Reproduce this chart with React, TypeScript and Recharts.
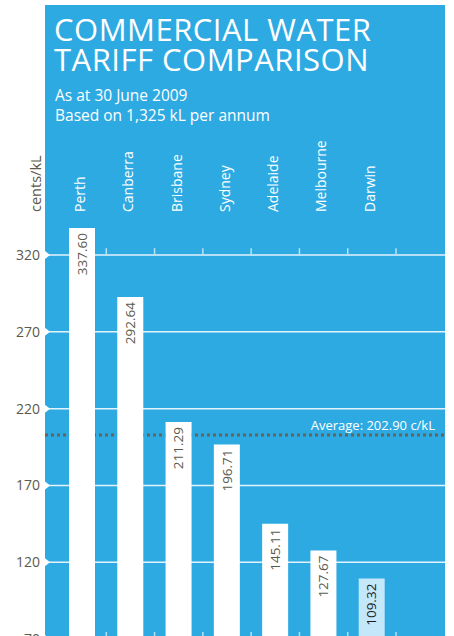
import React from "react";
import {
  BarChart,
  Bar,
  Cell,
  XAxis,
  YAxis,
  CartesianGrid,
  ReferenceLine,
  LabelList,
  Label,
} from "recharts";

const cities = ["Perth", "Canberra", "Brisbane", "Sydney", "Adelaide", "Melbourne", "Darwin"];
const tariffs = [337.6, 292.64, 211.29, 196.71, 145.11, 127.67, 109.32];
const yTicks = [70, 120, 170, 220, 270, 320];
const average = 202.9;
const highlighted = "Darwin";

const data = cities.map((name, i) => ({ name, value: tariffs[i] }));

const BLUE = "#2eaae2";
const OLIVE = "#5b5a4b";
const FONT = "'Open Sans', sans-serif";

const YTick = (props: any) => {
  const { x, y, payload } = props;
  return (
    <g>
      <text x={x} y={y} dy="0.35em" textAnchor="end" fill={OLIVE} fontSize={14} fontFamily={FONT}>
        {payload.value}
      </text>
      <polygon points={`${x + 5},${y - 4} ${x + 10},${y} ${x + 5},${y + 4}`} fill="#fff" />
    </g>
  );
};

const CityTick = (props: any) => {
  const { x, payload } = props;
  const y = 212;
  return (
    <text
      x={x - 2}
      y={y}
      dy="0.35em"
      transform={`rotate(-90, ${x - 2}, ${y})`}
      textAnchor="start"
      fill="#fff"
      fontSize={14}
      fontFamily={FONT}
    >
      {payload.value}
    </text>
  );
};

const ValueLabel = (props: any) => {
  const { x, y, width, value, index } = props;
  const cx = x + width / 2;
  const ty = y + 5;
  const dark = cities[index] === highlighted;
  return (
    <text
      x={cx}
      y={ty}
      dy="0.35em"
      transform={`rotate(-90, ${cx}, ${ty})`}
      textAnchor="end"
      fill={dark ? "#1b1b1b" : OLIVE}
      fontSize={13.5}
      fontFamily={FONT}
    >
      {Number(value).toFixed(2)}
    </text>
  );
};

const AvgLabel = (props: any) => {
  const { viewBox } = props;
  return (
    <text
      x={viewBox.x + viewBox.width - 10}
      y={viewBox.y - 5}
      textAnchor="end"
      fill="#fff"
      fontSize={13}
      fontFamily={FONT}
    >
      {`Average: ${average.toFixed(2)} c/kL`}
    </text>
  );
};

const UnitLabel = () => (
  <text
    x={41}
    y={212}
    transform="rotate(-90, 41, 212)"
    textAnchor="start"
    fill={OLIVE}
    fontSize={14.5}
    fontFamily={FONT}
  >
    cents/kL
  </text>
);

export default function App() {
  return (
    <div style={{ position: "absolute", left: 0, top: 0, width: 454, height: 660, fontFamily: FONT }}>
      <div style={{ position: "absolute", left: 45, top: 5, width: 400, height: 655, background: BLUE }} />
      <div
        style={{
          position: "absolute",
          left: 54,
          top: 14,
          color: "#fff",
          fontSize: 31,
          letterSpacing: 0.5,
          lineHeight: "30px",
          whiteSpace: "nowrap",
        }}
      >
        COMMERCIAL WATER
        <br />
        TARIFF COMPARISON
      </div>
      <div
        style={{
          position: "absolute",
          left: 55,
          top: 85,
          color: "#fff",
          fontSize: 15.5,
          lineHeight: "20px",
          whiteSpace: "nowrap",
        }}
      >
        As at 30 June 2009
        <br />
        Based on 1,325 kL per annum
      </div>
      <div style={{ position: "absolute", left: 0, top: 0 }}>
        <BarChart width={454} height={660} data={data} margin={{ top: 0, right: 9, bottom: 21, left: 0 }} barSize={26}>
          <CartesianGrid horizontal vertical={false} horizontalValues={yTicks} stroke="#e3f3fc" strokeWidth={1.5} />
          <CartesianGrid
            horizontal
            vertical={false}
            horizontalValues={[average]}
            stroke="#6b6252"
            strokeWidth={3}
            strokeDasharray="3 3"
          />
          <XAxis
            xAxisId="cat"
            dataKey="name"
            orientation="top"
            height={209}
            padding={{ left: 13, right: 49 }}
            axisLine={false}
            tickLine={false}
            tick={<CityTick />}
            interval={0}
          />
          <YAxis
            domain={[70, 350]}
            ticks={yTicks}
            width={45}
            axisLine={false}
            tickLine={false}
            tickSize={0}
            tickMargin={5}
            tick={<YTick />}
            allowDataOverflow
          >
            <Label content={<UnitLabel />} />
          </YAxis>
          <ReferenceLine xAxisId="cat" y={average} stroke="none" label={<AvgLabel />} />
          {cities.map((c) => (
            <ReferenceLine
              key={`t-${c}`}
              xAxisId="cat"
              position="end"
              segment={[
                { x: c, y: 320 },
                { x: c, y: 324.5 },
              ]}
              stroke="#b8e1f6"
              strokeWidth={1.5}
            />
          ))}
          {cities.map((c) => (
            <ReferenceLine
              key={`b-${c}`}
              xAxisId="cat"
              position="end"
              segment={[
                { x: c, y: 70 },
                { x: c, y: 74.5 },
              ]}
              stroke="#b8e1f6"
              strokeWidth={1.5}
            />
          ))}
          <Bar xAxisId="cat" dataKey="value" isAnimationActive={false}>
            {data.map((d) => (
              <Cell key={d.name} fill={d.name === highlighted ? "#c4e7f9" : "#ffffff"} />
            ))}
            <LabelList dataKey="value" content={<ValueLabel />} />
          </Bar>
        </BarChart>
      </div>
    </div>
  );
}
